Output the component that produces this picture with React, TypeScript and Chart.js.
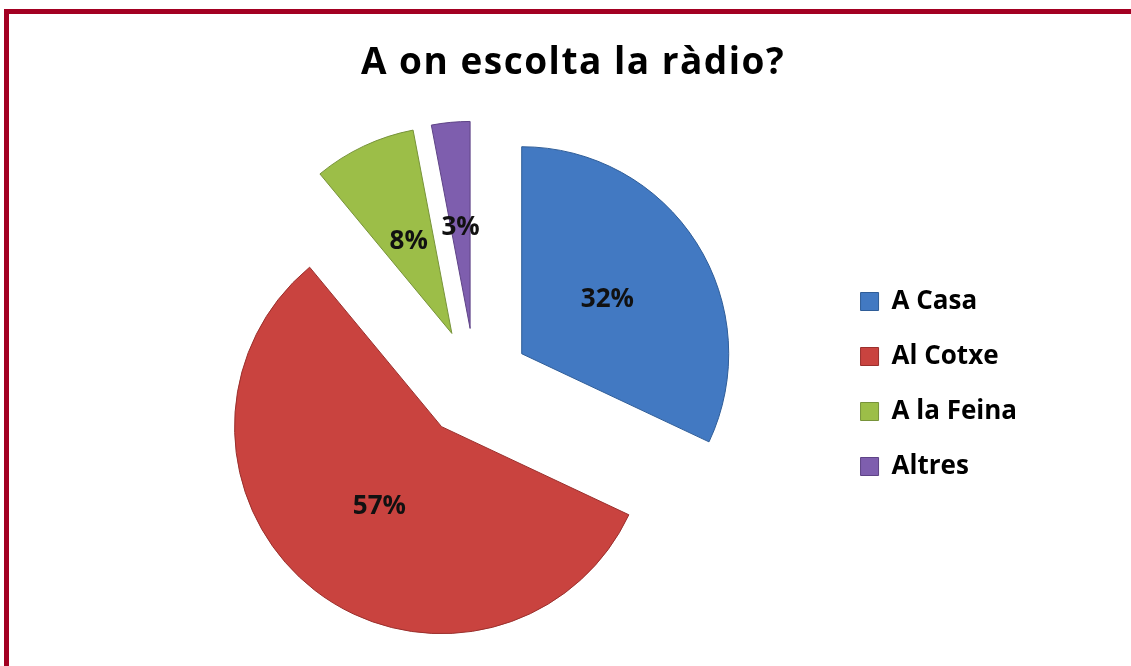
import React, { useEffect, useRef } from 'react';
import { Chart, registerables } from 'chart.js';

Chart.register(...registerables);

const titleText = 'A on escolta la ràdio?';
const categories = ['A Casa', 'Al Cotxe', 'A la Feina', 'Altres'];
const values = [32, 57, 8, 3];
const sliceColors = ['#4279C2', '#C9433F', '#9CBE48', '#7E5EAE'];
const sliceEdges = ['#2F5D98', '#9A2F2C', '#77933A', '#5E4386'];

const FONT = '"Open Sans", "Liberation Sans", Arial, sans-serif';
const PIE_RADIUS = 207;
const EXPLODE_PX = 55;

// Chart.js draws an arc translated by offset/4 and also enlarges its radius
// depending on the slice size; undo the enlargement so every slice keeps the
// same radius and its true angle, only pushed outward (Excel-style explosion).
const uniformExplode = {
  id: 'uniformExplode',
  afterDatasetUpdate(chart: any, args: any) {
    args.meta.data.forEach((arc: any) => {
      const off = (arc.options.offset || 0) / 4;
      const fix = 1 - Math.sin(Math.min(Math.PI, arc.circumference || 0));
      const ro = off * fix;
      arc.outerRadius = PIE_RADIUS - ro;
      const widen = ro / (Math.PI * PIE_RADIUS) / 2;
      arc.startAngle -= widen;
      arc.endAngle += widen;
    });
  },
};

const titleSpacing = {
  id: 'titleSpacing',
  afterInit(chart: any) {
    const tb = chart.titleBlock;
    if (!tb || tb.__spaced) return;
    const orig = tb.draw;
    tb.draw = function (...a: any[]) {
      const c = this.ctx;
      c.save();
      c.letterSpacing = '1.5px';
      orig.apply(this, a);
      c.restore();
    };
    tb.__spaced = true;
  },
};

const percentLabels = {
  id: 'percentLabels',
  afterDatasetsDraw(chart: any) {
    const meta = chart.getDatasetMeta(0);
    const data = chart.data.datasets[0].data as number[];
    const total = data.reduce((a, b) => a + b, 0);
    const ctx = chart.ctx;
    ctx.save();
    ctx.font = `bold 26px ${FONT}`;
    ctx.fillStyle = '#111111';
    ctx.textAlign = 'center';
    ctx.textBaseline = 'middle';
    meta.data.forEach((arc: any, i: number) => {
      const mid = (arc.startAngle + arc.endAngle) / 2;
      const off = (arc.options.offset || 0) / 4;
      const d = off + PIE_RADIUS * 0.49;
      const tx = arc.x + Math.cos(mid) * d;
      const ty = arc.y + Math.sin(mid) * d;
      const pct = Math.round((data[i] / total) * 100);
      ctx.fillText(`${pct}%`, tx, ty);
    });
    ctx.restore();
  },
};

export default function App() {
  const canvasRef = useRef<HTMLCanvasElement | null>(null);

  useEffect(() => {
    if (!canvasRef.current) return;
    const chart = new Chart(canvasRef.current, {
      type: 'pie',
      data: {
        labels: categories,
        datasets: [
          {
            data: values,
            backgroundColor: sliceColors,
            borderColor: sliceEdges,
            borderWidth: 1,
            offset: EXPLODE_PX * 4,
            hoverOffset: EXPLODE_PX * 4,
            radius: PIE_RADIUS,
            clip: false,
          } as any,
        ],
      },
      options: {
        responsive: false,
        animation: false,
        events: [],
        layout: { padding: { top: 31, left: 119, right: 104, bottom: 0 } },
        plugins: {
          title: {
            display: true,
            text: titleText,
            color: '#000000',
            font: { family: FONT, size: 37, weight: 'bold' },
            padding: { top: 10, bottom: 15 },
          },
          legend: {
            display: true,
            position: 'right',
            align: 'center',
            title: {
              display: true,
              text: '',
              font: { size: 10 },
              padding: { top: 29.5, bottom: 29.5 },
            },
            labels: {
              boxWidth: 18,
              boxHeight: 18,
              padding: 29,
              color: '#000000',
              font: { family: FONT, size: 26, weight: 'bold' },
            },
          },
          tooltip: { enabled: false },
        },
      } as any,
      plugins: [uniformExplode, titleSpacing, percentLabels],
    });
    return () => chart.destroy();
  }, []);

  return (
    <div style={{ position: 'absolute', left: 0, top: 0, width: 1131, height: 666, background: '#ffffff', overflow: 'hidden' }}>
      <div
        style={{
          position: 'absolute',
          left: 4,
          top: 9,
          width: 1200,
          height: 700,
          borderLeft: '5px solid #A30022',
          borderTop: '5px solid #A30022',
        }}
      />
      <canvas ref={canvasRef} width={1131} height={666} style={{ position: 'absolute', left: 0, top: 0 }} />
    </div>
  );
}
